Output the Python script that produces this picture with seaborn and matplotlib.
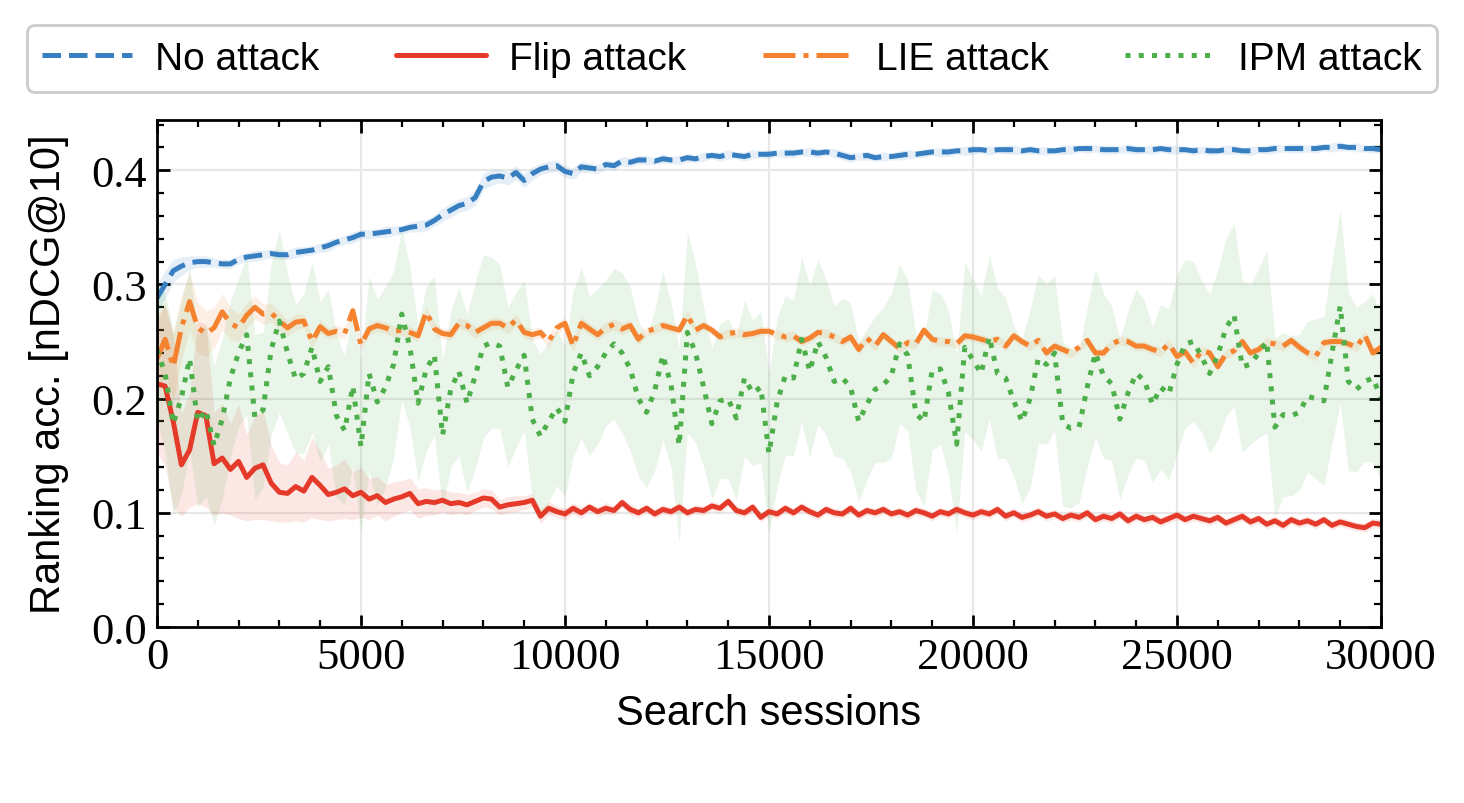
import numpy as np
import pandas as pd
import seaborn as sns
import matplotlib.pyplot as plt

# x grid: one logged point every 200 search sessions
sessions = np.arange(0, 30001, 200)

# mean nDCG@10 per series (rows = 2000 sessions)
no_attack = [
    0.288, 0.300, 0.312, 0.316, 0.319, 0.320, 0.320, 0.319, 0.318, 0.318,
    0.322, 0.324, 0.325, 0.326, 0.327, 0.326, 0.326, 0.328, 0.329, 0.330,
    0.332, 0.334, 0.337, 0.339, 0.341, 0.344, 0.344, 0.345, 0.346, 0.347,
    0.348, 0.350, 0.351, 0.352, 0.356, 0.361, 0.365, 0.369, 0.371, 0.376,
    0.390, 0.394, 0.395, 0.393, 0.398, 0.391, 0.397, 0.401, 0.403, 0.404,
    0.399, 0.397, 0.403, 0.402, 0.401, 0.405, 0.404, 0.408, 0.407, 0.409,
    0.409, 0.408, 0.410, 0.409, 0.409, 0.411, 0.410, 0.412, 0.413, 0.412,
    0.414, 0.413, 0.412, 0.414, 0.414, 0.414, 0.415, 0.415, 0.415, 0.416,
    0.416, 0.415, 0.416, 0.415, 0.413, 0.411, 0.412, 0.413, 0.411, 0.412,
    0.412, 0.413, 0.414, 0.414, 0.415, 0.416, 0.416, 0.416, 0.417, 0.417,
    0.418, 0.418, 0.417, 0.418, 0.418, 0.418, 0.417, 0.418, 0.417, 0.417,
    0.417, 0.418, 0.418, 0.419, 0.419, 0.419, 0.418, 0.418, 0.418, 0.419,
    0.418, 0.418, 0.418, 0.419, 0.418, 0.418, 0.418, 0.417, 0.418, 0.417,
    0.417, 0.418, 0.418, 0.417, 0.417, 0.418, 0.418, 0.419, 0.419, 0.419,
    0.419, 0.419, 0.419, 0.420, 0.420, 0.421, 0.420, 0.420, 0.419, 0.419,
    0.418,
]
flip_attack = [
    0.213, 0.211, 0.180, 0.142, 0.155, 0.188, 0.185, 0.143, 0.148, 0.138,
    0.145, 0.131, 0.139, 0.142, 0.126, 0.118, 0.117, 0.123, 0.119, 0.131,
    0.124, 0.116, 0.118, 0.121, 0.115, 0.118, 0.112, 0.115, 0.109, 0.112,
    0.114, 0.117, 0.108, 0.110, 0.109, 0.111, 0.108, 0.109, 0.107, 0.110,
    0.113, 0.112, 0.105, 0.107, 0.108, 0.109, 0.111, 0.097, 0.104, 0.101,
    0.099, 0.104, 0.100, 0.105, 0.101, 0.104, 0.102, 0.109, 0.103, 0.100,
    0.104, 0.099, 0.103, 0.101, 0.105, 0.100, 0.103, 0.102, 0.106, 0.104,
    0.110, 0.102, 0.100, 0.105, 0.096, 0.101, 0.099, 0.104, 0.100, 0.105,
    0.101, 0.098, 0.103, 0.100, 0.099, 0.104, 0.098, 0.102, 0.100, 0.103,
    0.099, 0.101, 0.098, 0.102, 0.100, 0.097, 0.101, 0.099, 0.103, 0.100,
    0.098, 0.101, 0.099, 0.103, 0.097, 0.100, 0.096, 0.098, 0.101, 0.097,
    0.099, 0.095, 0.098, 0.096, 0.100, 0.094, 0.097, 0.095, 0.099, 0.093,
    0.097, 0.094, 0.096, 0.092, 0.095, 0.098, 0.094, 0.097, 0.095, 0.093,
    0.096, 0.091, 0.094, 0.097, 0.092, 0.095, 0.090, 0.093, 0.089, 0.094,
    0.091, 0.093, 0.090, 0.094, 0.089, 0.092, 0.090, 0.088, 0.087, 0.091,
    0.090,
]
lie_attack = [
    0.235, 0.252, 0.228, 0.262, 0.285, 0.262, 0.257, 0.262, 0.276, 0.266,
    0.262, 0.273, 0.280, 0.274, 0.275, 0.268, 0.262, 0.267, 0.268, 0.250,
    0.263, 0.257, 0.259, 0.257, 0.277, 0.247, 0.261, 0.264, 0.262, 0.259,
    0.260, 0.258, 0.255, 0.276, 0.261, 0.257, 0.256, 0.266, 0.264, 0.258,
    0.262, 0.266, 0.266, 0.262, 0.269, 0.258, 0.256, 0.258, 0.250, 0.262,
    0.266, 0.246, 0.266, 0.261, 0.256, 0.262, 0.265, 0.261, 0.264, 0.252,
    0.259, 0.261, 0.264, 0.262, 0.260, 0.273, 0.260, 0.264, 0.260, 0.254,
    0.257, 0.258, 0.256, 0.257, 0.259, 0.259, 0.256, 0.254, 0.255, 0.250,
    0.253, 0.258, 0.257, 0.254, 0.250, 0.254, 0.243, 0.253, 0.246, 0.256,
    0.250, 0.244, 0.249, 0.248, 0.260, 0.252, 0.250, 0.250, 0.248, 0.255,
    0.254, 0.252, 0.250, 0.252, 0.246, 0.255, 0.250, 0.246, 0.251, 0.240,
    0.246, 0.243, 0.240, 0.245, 0.251, 0.240, 0.240, 0.248, 0.251, 0.250,
    0.246, 0.246, 0.243, 0.241, 0.248, 0.237, 0.241, 0.231, 0.242, 0.240,
    0.228, 0.239, 0.242, 0.250, 0.240, 0.243, 0.249, 0.248, 0.246, 0.251,
    0.245, 0.240, 0.237, 0.249, 0.250, 0.250, 0.248, 0.245, 0.256, 0.240,
    0.245,
]
ipm_attack = [
    0.243, 0.222, 0.178, 0.201, 0.235, 0.180, 0.190, 0.159, 0.182, 0.218,
    0.240, 0.256, 0.184, 0.190, 0.243, 0.268, 0.240, 0.217, 0.222, 0.245,
    0.215, 0.228, 0.185, 0.172, 0.211, 0.158, 0.222, 0.197, 0.210, 0.230,
    0.274, 0.245, 0.196, 0.226, 0.238, 0.168, 0.208, 0.224, 0.196, 0.220,
    0.246, 0.249, 0.246, 0.210, 0.225, 0.238, 0.182, 0.167, 0.180, 0.192,
    0.180, 0.222, 0.240, 0.220, 0.228, 0.240, 0.248, 0.240, 0.226, 0.200,
    0.188, 0.207, 0.238, 0.212, 0.159, 0.258, 0.240, 0.210, 0.178, 0.198,
    0.200, 0.183, 0.218, 0.205, 0.210, 0.152, 0.197, 0.220, 0.218, 0.252,
    0.224, 0.250, 0.236, 0.215, 0.218, 0.210, 0.180, 0.195, 0.208, 0.212,
    0.220, 0.248, 0.238, 0.187, 0.180, 0.225, 0.226, 0.205, 0.160, 0.245,
    0.234, 0.222, 0.254, 0.222, 0.218, 0.198, 0.180, 0.200, 0.235, 0.230,
    0.240, 0.178, 0.174, 0.175, 0.210, 0.240, 0.220, 0.213, 0.182, 0.205,
    0.222, 0.216, 0.195, 0.210, 0.204, 0.230, 0.248, 0.250, 0.237, 0.222,
    0.238, 0.262, 0.273, 0.228, 0.230, 0.240, 0.250, 0.175, 0.186, 0.185,
    0.188, 0.202, 0.200, 0.198, 0.240, 0.281, 0.215, 0.208, 0.215, 0.218,
    0.201,
]

# half-width of the shaded spread around each mean
no_attack_sd = [
    0.012, 0.012, 0.010, 0.008, 0.006, 0.005, 0.005, 0.004, 0.004, 0.004,
    0.004, 0.004, 0.005, 0.004, 0.004, 0.004, 0.004, 0.005, 0.004, 0.004,
    0.004, 0.005, 0.004, 0.004, 0.005, 0.004, 0.004, 0.004, 0.005, 0.004,
    0.004, 0.004, 0.005, 0.005, 0.005, 0.006, 0.006, 0.006, 0.006, 0.007,
    0.007, 0.007, 0.006, 0.006, 0.006, 0.006, 0.006, 0.005, 0.005, 0.005,
    0.005, 0.005, 0.005, 0.004, 0.004, 0.004, 0.004, 0.004, 0.004, 0.004,
    0.004, 0.003, 0.004, 0.003, 0.004, 0.004, 0.003, 0.004, 0.003, 0.004,
    0.004, 0.003, 0.004, 0.004, 0.003, 0.004, 0.003, 0.004, 0.004, 0.003,
    0.004, 0.004, 0.003, 0.004, 0.004, 0.004, 0.003, 0.004, 0.003, 0.004,
    0.003, 0.004, 0.004, 0.003, 0.004, 0.003, 0.004, 0.004, 0.003, 0.004,
    0.004, 0.003, 0.004, 0.003, 0.004, 0.004, 0.003, 0.004, 0.003, 0.004,
    0.003, 0.004, 0.004, 0.003, 0.004, 0.003, 0.004, 0.004, 0.003, 0.004,
    0.004, 0.003, 0.004, 0.003, 0.004, 0.004, 0.003, 0.004, 0.003, 0.004,
    0.003, 0.004, 0.004, 0.003, 0.004, 0.003, 0.004, 0.004, 0.003, 0.004,
    0.004, 0.003, 0.004, 0.003, 0.004, 0.004, 0.003, 0.004, 0.003, 0.004,
    0.003,
]
flip_attack_sd = [
    0.060, 0.070, 0.075, 0.045, 0.050, 0.080, 0.080, 0.045, 0.048, 0.040,
    0.050, 0.038, 0.045, 0.048, 0.033, 0.026, 0.025, 0.030, 0.027, 0.035,
    0.030, 0.023, 0.024, 0.026, 0.021, 0.022, 0.018, 0.017, 0.016, 0.015,
    0.014, 0.014, 0.013, 0.012, 0.011, 0.010, 0.010, 0.009, 0.009, 0.008,
    0.008, 0.008, 0.007, 0.007, 0.007, 0.006, 0.006, 0.006, 0.006, 0.005,
    0.005, 0.005, 0.005, 0.004, 0.004, 0.005, 0.004, 0.004, 0.005, 0.004,
    0.004, 0.004, 0.004, 0.004, 0.004, 0.004, 0.004, 0.004, 0.004, 0.004,
    0.004, 0.004, 0.004, 0.004, 0.004, 0.004, 0.004, 0.004, 0.004, 0.004,
    0.004, 0.004, 0.004, 0.004, 0.004, 0.004, 0.004, 0.004, 0.004, 0.004,
    0.004, 0.004, 0.004, 0.004, 0.004, 0.004, 0.004, 0.004, 0.004, 0.004,
    0.004, 0.004, 0.004, 0.004, 0.004, 0.004, 0.004, 0.004, 0.004, 0.004,
    0.004, 0.004, 0.004, 0.004, 0.004, 0.004, 0.004, 0.004, 0.004, 0.004,
    0.004, 0.004, 0.004, 0.004, 0.004, 0.004, 0.004, 0.004, 0.004, 0.004,
    0.004, 0.004, 0.004, 0.004, 0.004, 0.004, 0.004, 0.004, 0.004, 0.004,
    0.004, 0.004, 0.004, 0.004, 0.004, 0.004, 0.004, 0.004, 0.004, 0.004,
    0.004,
]
lie_attack_sd = [
    0.030, 0.032, 0.030, 0.028, 0.025, 0.022, 0.020, 0.018, 0.016, 0.014,
    0.012, 0.011, 0.010, 0.009, 0.008, 0.008, 0.007, 0.007, 0.006, 0.006,
    0.006, 0.005, 0.005, 0.005, 0.005, 0.005, 0.005, 0.005, 0.005, 0.005,
    0.005, 0.005, 0.005, 0.005, 0.005, 0.005, 0.005, 0.005, 0.005, 0.005,
    0.005, 0.005, 0.005, 0.005, 0.005, 0.005, 0.005, 0.005, 0.005, 0.005,
    0.005, 0.005, 0.005, 0.005, 0.005, 0.005, 0.005, 0.005, 0.005, 0.005,
    0.004, 0.004, 0.004, 0.004, 0.004, 0.004, 0.004, 0.004, 0.004, 0.004,
    0.004, 0.004, 0.004, 0.004, 0.004, 0.004, 0.004, 0.004, 0.004, 0.004,
    0.004, 0.004, 0.004, 0.004, 0.004, 0.004, 0.004, 0.004, 0.004, 0.004,
    0.004, 0.004, 0.004, 0.004, 0.004, 0.004, 0.004, 0.004, 0.004, 0.004,
    0.004, 0.004, 0.004, 0.004, 0.004, 0.004, 0.004, 0.004, 0.004, 0.004,
    0.004, 0.004, 0.004, 0.004, 0.004, 0.004, 0.004, 0.004, 0.004, 0.004,
    0.004, 0.004, 0.004, 0.004, 0.004, 0.004, 0.004, 0.004, 0.004, 0.004,
    0.004, 0.004, 0.004, 0.004, 0.004, 0.004, 0.004, 0.004, 0.004, 0.004,
    0.004, 0.004, 0.004, 0.004, 0.004, 0.004, 0.004, 0.004, 0.004, 0.004,
    0.004,
]
ipm_attack_sd = [
    0.060, 0.070, 0.080, 0.085, 0.080, 0.075, 0.075, 0.070, 0.070, 0.068,
    0.065, 0.070, 0.072, 0.068, 0.075, 0.080, 0.070, 0.065, 0.070, 0.075,
    0.070, 0.068, 0.072, 0.065, 0.070, 0.075, 0.085, 0.090, 0.088, 0.082,
    0.075, 0.070, 0.068, 0.072, 0.070, 0.065, 0.068, 0.074, 0.078, 0.082,
    0.080, 0.075, 0.072, 0.070, 0.068, 0.066, 0.070, 0.072, 0.070, 0.068,
    0.066, 0.072, 0.075, 0.070, 0.068, 0.064, 0.066, 0.070, 0.072, 0.068,
    0.066, 0.070, 0.074, 0.072, 0.085, 0.088, 0.078, 0.070, 0.066, 0.068,
    0.070, 0.072, 0.068, 0.064, 0.066, 0.070, 0.074, 0.070, 0.068, 0.072,
    0.075, 0.072, 0.068, 0.066, 0.070, 0.074, 0.070, 0.066, 0.064, 0.068,
    0.072, 0.070, 0.066, 0.068, 0.074, 0.070, 0.066, 0.072, 0.078, 0.074,
    0.070, 0.068, 0.072, 0.075, 0.070, 0.066, 0.072, 0.078, 0.074, 0.070,
    0.068, 0.072, 0.070, 0.066, 0.070, 0.074, 0.072, 0.068, 0.070, 0.072,
    0.074, 0.070, 0.068, 0.072, 0.075, 0.078, 0.074, 0.070, 0.066, 0.070,
    0.074, 0.078, 0.080, 0.075, 0.070, 0.074, 0.080, 0.078, 0.072, 0.070,
    0.068, 0.066, 0.070, 0.074, 0.080, 0.085, 0.078, 0.072, 0.070, 0.074,
    0.072,
]

series_names = ["No attack", "Flip attack", "LIE attack", "IPM attack"]
series_means = [no_attack, flip_attack, lie_attack, ipm_attack]
series_sds = [no_attack_sd, flip_attack_sd, lie_attack_sd, ipm_attack_sd]
colors = ["#377fc0", "#e53a29", "#f5822f", "#4daf4a"]
styles = ["--", "-", "-.", ":"]

sns.set_theme(style="ticks")
plt.rcParams["font.family"] = ["Liberation Serif", "DejaVu Serif"]
plt.rcParams.update({
    "axes.linewidth": 1.0,
    "text.color": "black",
    "axes.labelcolor": "black",
    "xtick.color": "black",
    "ytick.color": "black",
    "axes.edgecolor": "black",
})

fig = plt.figure(figsize=(7.32, 4.02), dpi=200)
ax = fig.add_axes([0.1072, 0.2189, 0.8361, 0.6306])

for name, mean, sd, col, ls in zip(series_names, series_means, series_sds, colors, styles):
    df = pd.DataFrame({"Search sessions": sessions, "acc": mean, "sd": sd})
    ax.fill_between(df["Search sessions"], df["acc"] - df["sd"], df["acc"] + df["sd"],
                    color=col, alpha=0.12, lw=0)
    sns.lineplot(data=df, x="Search sessions", y="acc", color=col, linestyle=ls,
                 lw=1.8, label=name, errorbar=None, ax=ax, legend=False)

ax.set_xlim(0, 30000)
ax.set_ylim(0, 0.444)
ax.set_xticks(np.arange(0, 30001, 5000))
ax.set_xticks(np.arange(0, 30001, 1000), minor=True)
ax.set_yticks([0.0, 0.1, 0.2, 0.3, 0.4])
ax.set_yticks(np.arange(0, 0.441, 0.02), minor=True)
ax.set_yticklabels(["0.0", "0.1", "0.2", "0.3", "0.4"])
ax.tick_params(which="both", direction="in", top=True, right=True, labelsize=16)
ax.tick_params(which="major", length=4.5, width=1.0)
ax.tick_params(which="minor", length=2.5, width=0.8)
ax.grid(True, which="major", color="#e8e8e8", lw=0.8)

ax.set_xlabel("Search sessions", family="Liberation Sans", fontsize=15, labelpad=6)
ax.set_ylabel("Ranking acc. [nDCG@10]", family="Liberation Sans", fontsize=15, labelpad=8)

handles = ax.get_lines()[:4]
fig.legend(handles, series_names, loc="lower left", ncol=4, mode="expand",
           bbox_to_anchor=(0.0184, 0.884, 0.9632, 0.081),
           prop={"family": "Liberation Sans", "size": 14}, handlelength=2.3,
           handletextpad=0.6, frameon=True, fancybox=True, edgecolor="#cccccc",
           framealpha=1, borderaxespad=0)

fig.savefig("out.png", dpi=200)
